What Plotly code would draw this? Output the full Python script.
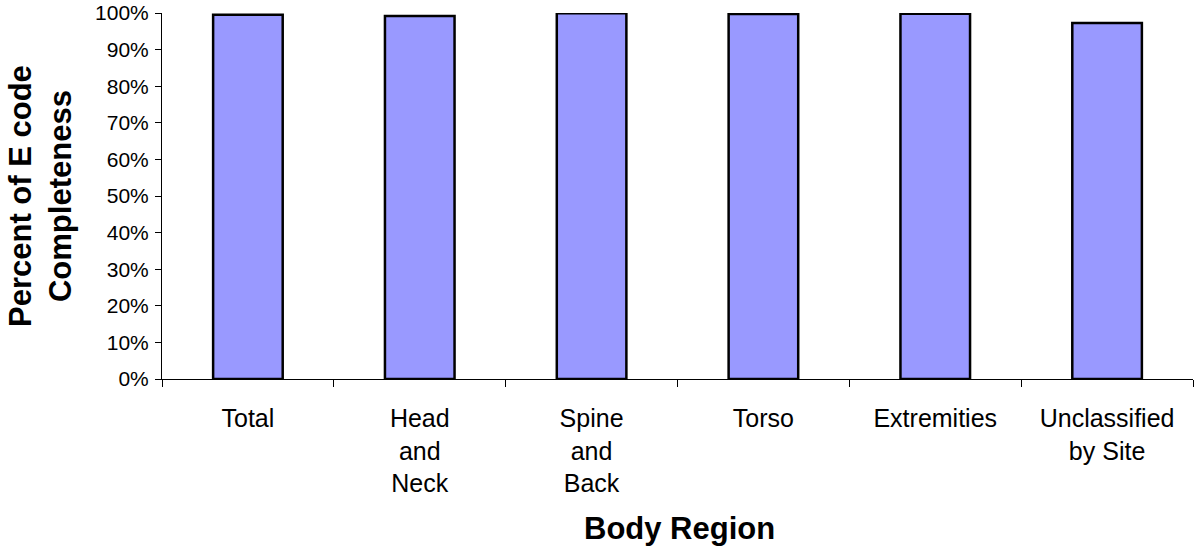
import plotly.graph_objects as go

regions = ["Total", "Head<br>and<br>Neck", "Spine<br>and<br>Back", "Torso",
           "Extremities", "Unclassified<br>by Site"]
completeness = [0.995, 0.992, 0.999, 0.997, 0.998, 0.973]
y_ticks = [i / 10 for i in range(11)]

fig = go.Figure(go.Bar(
    x=regions, y=completeness,
    marker=dict(color="#9999FF", line=dict(color="black", width=2.5)),
))

fig.update_layout(
    width=1195, height=549,
    margin=dict(l=162, r=2, t=13, b=170),
    plot_bgcolor="white", paper_bgcolor="white",
    bargap=0.595, showlegend=False,
    font=dict(family="Liberation Sans, Arial", color="black", size=21),
)
fig.update_xaxes(
    automargin=False,
    showline=True, linecolor="black", linewidth=1,
    ticks="outside", tickson="boundaries", ticklen=7, tickcolor="black",
    tickfont=dict(size=25), ticklabelstandoff=17,
)
fig.update_yaxes(
    automargin=False,
    range=[0, 1], tickvals=y_ticks, tickformat=".0%",
    showline=True, linecolor="black", linewidth=1, showgrid=False,
    ticks="outside", ticklen=6, tickcolor="black", tickfont=dict(size=21),
    ticklabelstandoff=2, ticklabeloverflow="allow",
)

# axis titles as annotations so they can sit exactly where the original has them
fig.add_annotation(text="<b>Body Region</b>", xref="paper", yref="paper",
                   x=0.5, y=0, yanchor="bottom", yshift=-169, xshift=2,
                   showarrow=False, font=dict(size=31))
fig.add_annotation(text="<b>Percent of E code<br>Completeness</b>", xref="paper", yref="paper",
                   x=0, y=0.5, xanchor="center", xshift=-122, textangle=-90,
                   showarrow=False, font=dict(size=31))

# drop the default page margin so the figure sits at the window's corner
fig.write_html("out.html", config={"displayModeBar": False},
               post_script="document.body.style.margin='0';")
